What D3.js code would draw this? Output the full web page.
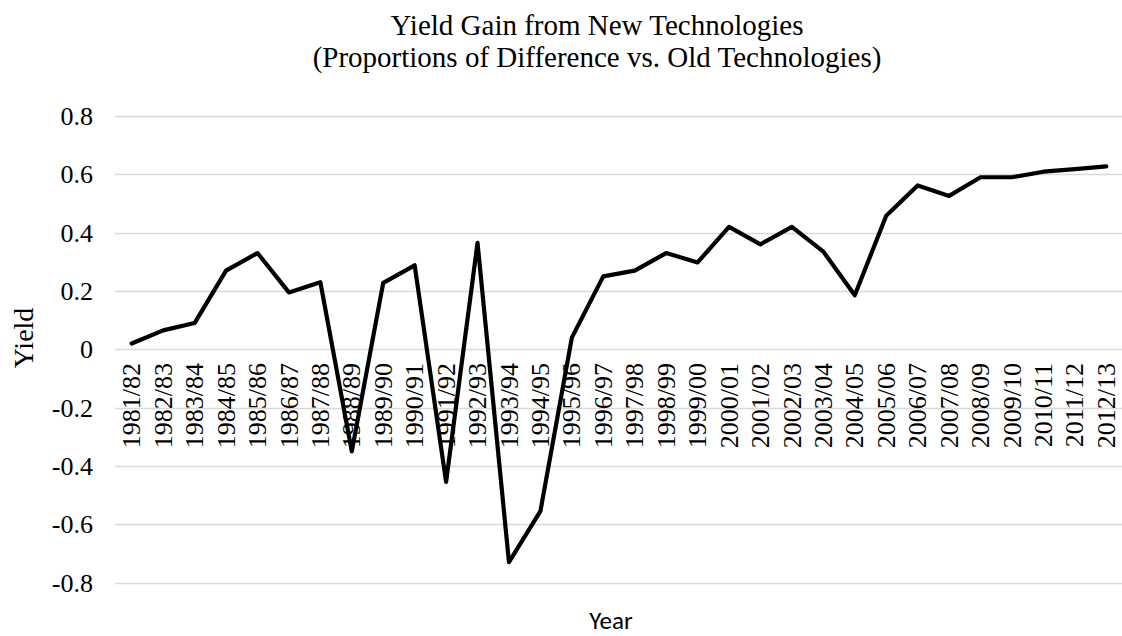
<!DOCTYPE html>
<html>
<head>
<meta charset="utf-8">
<script src="https://cdn.jsdelivr.net/npm/d3@7"></script>
<style>
  body { margin: 0; background: #fff; }
  svg { display: block; }
  .serif { font-family: "Liberation Serif", "Times New Roman", serif; }
  .sans { font-family: Carlito, Lato, "Open Sans", sans-serif; }
</style>
</head>
<body>
<script>
// seasons on the x axis
var seasons = ["1981/82","1982/83","1983/84","1984/85","1985/86","1986/87","1987/88","1988/89",
  "1989/90","1990/91","1991/92","1992/93","1993/94","1994/95","1995/96","1996/97","1997/98",
  "1998/99","1999/00","2000/01","2001/02","2002/03","2003/04","2004/05","2005/06","2006/07",
  "2007/08","2008/09","2009/10","2010/11","2011/12","2012/13"];

// yield gain (proportion of difference vs. old technologies)
var yieldGain = [0.02, 0.065, 0.09, 0.27, 0.33, 0.195, 0.23, -0.35,
  0.228, 0.288, -0.455, 0.365, -0.73, -0.555, 0.04, 0.25, 0.27,
  0.33, 0.298, 0.42, 0.36, 0.42, 0.335, 0.185, 0.458, 0.562,
  0.526, 0.59, 0.59, 0.609, 0.618, 0.627];

var yTicks = [-0.8, -0.6, -0.4, -0.2, 0, 0.2, 0.4, 0.6, 0.8];

var W = 1122, H = 636;

var svg = d3.select("body").append("svg")
    .attr("width", W)
    .attr("height", H);

var x = d3.scalePoint().domain(seasons).range([116, 1122]).padding(0.5);
var y = d3.scaleLinear().domain([-0.8, 0.8]).range([582.6, 116]);

// gridlines
svg.append("g")
  .selectAll("line")
  .data(yTicks)
  .enter().append("line")
    .attr("x1", 115)
    .attr("x2", W)
    .attr("y1", function(d) { return Math.round(y(d)) + 0.5; })
    .attr("y2", function(d) { return Math.round(y(d)) + 0.5; })
    .attr("stroke", "#d9d9d9")
    .attr("stroke-width", 1.3);

// y tick labels
svg.append("g")
  .selectAll("text")
  .data(yTicks)
  .enter().append("text")
    .attr("class", "serif")
    .attr("x", 93)
    .attr("y", function(d) { return y(d); })
    .attr("dy", "0.35em")
    .attr("text-anchor", "end")
    .attr("font-size", 26)
    .attr("fill", "#000")
    .text(function(d) { return d === 0 ? "0" : d.toFixed(1); });

// x labels, rotated, hanging below the zero line
svg.append("g")
  .selectAll("text")
  .data(seasons)
  .enter().append("text")
    .attr("class", "serif")
    .attr("transform", function(d) { return "translate(" + x(d) + "," + 363 + ") rotate(-90)"; })
    .attr("dy", "0.33em")
    .attr("text-anchor", "end")
    .attr("font-size", 26)
    .attr("fill", "#000")
    .text(function(d) { return d; });

// the series line
var line = d3.line()
    .x(function(d, i) { return x(seasons[i]); })
    .y(function(d) { return y(d); });

svg.append("path")
    .datum(yieldGain)
    .attr("d", line)
    .attr("fill", "none")
    .attr("stroke", "#000")
    .attr("stroke-width", 4.2)
    .attr("stroke-linejoin", "round")
    .attr("stroke-linecap", "round");

// titles
var title = svg.append("text")
    .attr("class", "serif")
    .attr("text-anchor", "middle")
    .attr("font-size", 29)
    .attr("fill", "#000");
title.append("tspan").attr("x", 597).attr("y", 35).text("Yield Gain from New Technologies");
title.append("tspan").attr("x", 597).attr("y", 67).text("(Proportions of Difference vs. Old Technologies)");

svg.append("text")
    .attr("class", "serif")
    .attr("transform", "translate(23,338) rotate(-90)")
    .attr("dy", "0.35em")
    .attr("text-anchor", "middle")
    .attr("font-size", 28)
    .attr("fill", "#000")
    .text("Yield");

svg.append("text")
    .attr("class", "sans")
    .attr("x", 611)
    .attr("y", 629)
    .attr("text-anchor", "middle")
    .attr("font-size", 25)
    .attr("fill", "#000")
    .text("Year");
</script>
</body>
</html>
